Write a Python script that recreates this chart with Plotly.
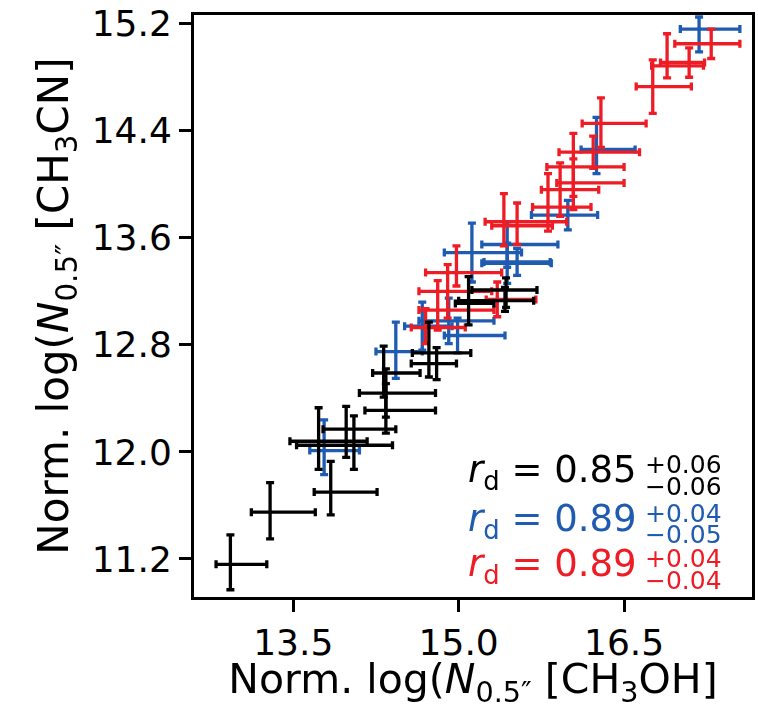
import plotly.graph_objects as go

# ---------------- data ----------------
# black sample
bk_x  = [12.93, 13.29, 13.84, 13.73, 13.98, 14.05, 14.32, 14.34, 14.34, 14.73, 14.80, 15.09, 15.43, 15.42]
bk_y  = [11.16, 11.55, 11.70, 12.08, 12.17, 12.05, 12.59, 12.44, 12.31, 12.74, 12.66, 13.11, 13.21, 13.13]
bk_xm = [0.13, 0.17, 0.15, 0.26, 0.21, 0.52, 0.10, 0.24, 0.19, 0.15, 0.23, 0.12, 0.31, 0.42]
bk_xp = [0.33, 0.41, 0.42, 0.44, 0.45, 0.35, 0.33, 0.45, 0.45, 0.38, 0.18, 0.23, 0.28, 0.26]
bk_ym = [0.19, 0.20, 0.17, 0.21, 0.21, 0.18, 0.18, 0.18, 0.17, 0.18, 0.12, 0.16, 0.13, 0.08]
bk_yp = [0.22, 0.22, 0.23, 0.25, 0.17, 0.22, 0.20, 0.18, 0.20, 0.23, 0.12, 0.20, 0.09, 0.10]

# blue sample
bl_x  = [17.18, 16.25, 15.99, 15.44, 15.44, 15.12, 15.53, 14.91, 14.67, 14.99, 14.43, 13.78]
bl_y  = [15.16, 14.26, 13.77, 13.55, 13.41, 13.49, 13.42, 12.98, 12.94, 12.87, 12.75, 12.01]
bl_xm = [0.17, 0.14, 0.33, 0.23, 0.23, 0.25, 0.30, 0.27, 0.16, 0.12, 0.18, 0.13]
bl_xp = [0.37, 0.35, 0.27, 0.46, 0.40, 0.45, 0.30, 0.41, 0.27, 0.43, 0.24, 0.32]
bl_ym = [0.17, 0.18, 0.11, 0.17, 0.15, 0.22, 0.10, 0.17, 0.18, 0.13, 0.20, 0.18]
bl_yp = [0.09, 0.24, 0.11, 0.17, 0.15, 0.22, 0.10, 0.17, 0.18, 0.13, 0.22, 0.23]

# red sample
rd_x  = [17.29, 17.09, 16.89, 16.76, 16.29, 16.22, 16.04, 16.04, 15.92, 15.81, 15.41, 15.53, 14.98, 14.90, 14.81, 14.70, 15.35]
rd_y  = [15.05, 14.91, 14.885, 14.73, 14.455, 14.24, 14.13, 14.01, 13.96, 13.83, 13.72, 13.69, 13.34, 13.20, 13.06, 12.93, 13.14]
rd_xm = [0.33, 0.26, 0.14, 0.15, 0.17, 0.31, 0.24, 0.15, 0.17, 0.14, 0.17, 0.23, 0.28, 0.26, 0.17, 0.13, 0.10]
rd_xp = [0.26, 0.14, 0.33, 0.35, 0.41, 0.42, 0.46, 0.46, 0.35, 0.39, 0.57, 0.32, 0.41, 0.40, 0.51, 0.36, 0.35]
rd_ym = [0.11, 0.11, 0.09, 0.20, 0.18, 0.12, 0.22, 0.20, 0.20, 0.18, 0.18, 0.14, 0.10, 0.20, 0.15, 0.12, 0.13]
rd_yp = [0.11, 0.11, 0.24, 0.20, 0.19, 0.12, 0.25, 0.18, 0.20, 0.25, 0.21, 0.17, 0.20, 0.20, 0.22, 0.14, 0.13]

# highlighted (circled) sources
circ_x = [15.09, 16.25, 16.89]
circ_y = [13.11, 14.26, 14.885]

# correlation labels
r_vals  = ["0.85", "0.89", "0.89"]
r_plus  = ["+0.06", "+0.04", "+0.04"]
r_minus = ["\u22120.06", "\u22120.05", "\u22120.04"]

x_ticks = [13.5, 15.0, 16.5]
y_ticks = [11.2, 12.0, 12.8, 13.6, 14.4, 15.2]

BLACK = "#000000"
BLUE = "#1f5bb0"
RED = "#ee1c25"
colors = [BLACK, BLUE, RED]
FONT = "DejaVu Sans"

fig = go.Figure()

def add_err(x, y, xm, xp, ym, yp, color):
    fig.add_trace(go.Scatter(
        x=x, y=y, mode="markers",
        marker=dict(size=3, color=color),
        error_x=dict(type="data", symmetric=False, array=xp, arrayminus=xm,
                     color=color, thickness=3.3, width=4),
        error_y=dict(type="data", symmetric=False, array=yp, arrayminus=ym,
                     color=color, thickness=3.3, width=4),
        showlegend=False, hoverinfo="skip"))

add_err(bl_x, bl_y, bl_xm, bl_xp, bl_ym, bl_yp, BLUE)
add_err(rd_x, rd_y, rd_xm, rd_xp, rd_ym, rd_yp, RED)
add_err(bk_x, bk_y, bk_xm, bk_xp, bk_ym, bk_yp, BLACK)

fig.add_trace(go.Scatter(
    x=circ_x, y=circ_y, mode="markers",
    marker=dict(size=22, color="rgba(0,0,0,0)", symbol="circle-open",
                line=dict(color=colors, width=2)),
    opacity=0.8, showlegend=False, hoverinfo="skip"))

fig.update_layout(
    width=758, height=709,
    margin=dict(l=194, r=3, t=14, b=112),
    plot_bgcolor="white", paper_bgcolor="white",
    font=dict(family=FONT, color="black", size=36),
)

axis_common = dict(
    showgrid=False, zeroline=False, showline=True, linecolor="black", linewidth=3,
    mirror=True, ticks="outside", ticklen=12, tickwidth=2.5, tickcolor="black",
    tickfont=dict(family=FONT, size=36, color="black"),
)
fig.update_xaxes(range=[12.60, 17.66], tickvals=x_ticks,
                 ticktext=[f"{v:.1f}" for v in x_ticks],
                 title=dict(text="Norm. log(<i>N</i><sub>0.5\u2033</sub> [CH<sub>3</sub>OH]",
                            font=dict(family=FONT, size=41), standoff=9),
                 **axis_common)
fig.update_yaxes(range=[10.916, 15.265], tickvals=y_ticks,
                 ticktext=[f"{v:.1f}" for v in y_ticks],
                 title=dict(text="Norm. log(<i>N</i><sub>0.5\u2033</sub> [CH<sub>3</sub>CN]",
                            font=dict(family=FONT, size=42), standoff=10),
                 **axis_common)

main_y = [0.214, 0.131, 0.053]
for i in range(3):
    fig.add_annotation(xref="paper", yref="paper", x=0.797, y=main_y[i],
                       xanchor="right", yanchor="middle", showarrow=False,
                       text=f"<i>r</i><sub>d</sub> = {r_vals[i]}",
                       font=dict(family=FONT, size=37, color=colors[i]))
    fig.add_annotation(xref="paper", yref="paper", x=0.806, y=main_y[i] + 0.013,
                       xanchor="left", yanchor="middle", showarrow=False, borderpad=0,
                       text=r_plus[i], font=dict(family=FONT, size=25, color=colors[i]))
    fig.add_annotation(xref="paper", yref="paper", x=0.806, y=main_y[i] - 0.024,
                       xanchor="left", yanchor="middle", showarrow=False, borderpad=0,
                       text=r_minus[i], font=dict(family=FONT, size=25, color=colors[i]))

fig.write_html("out.html")
